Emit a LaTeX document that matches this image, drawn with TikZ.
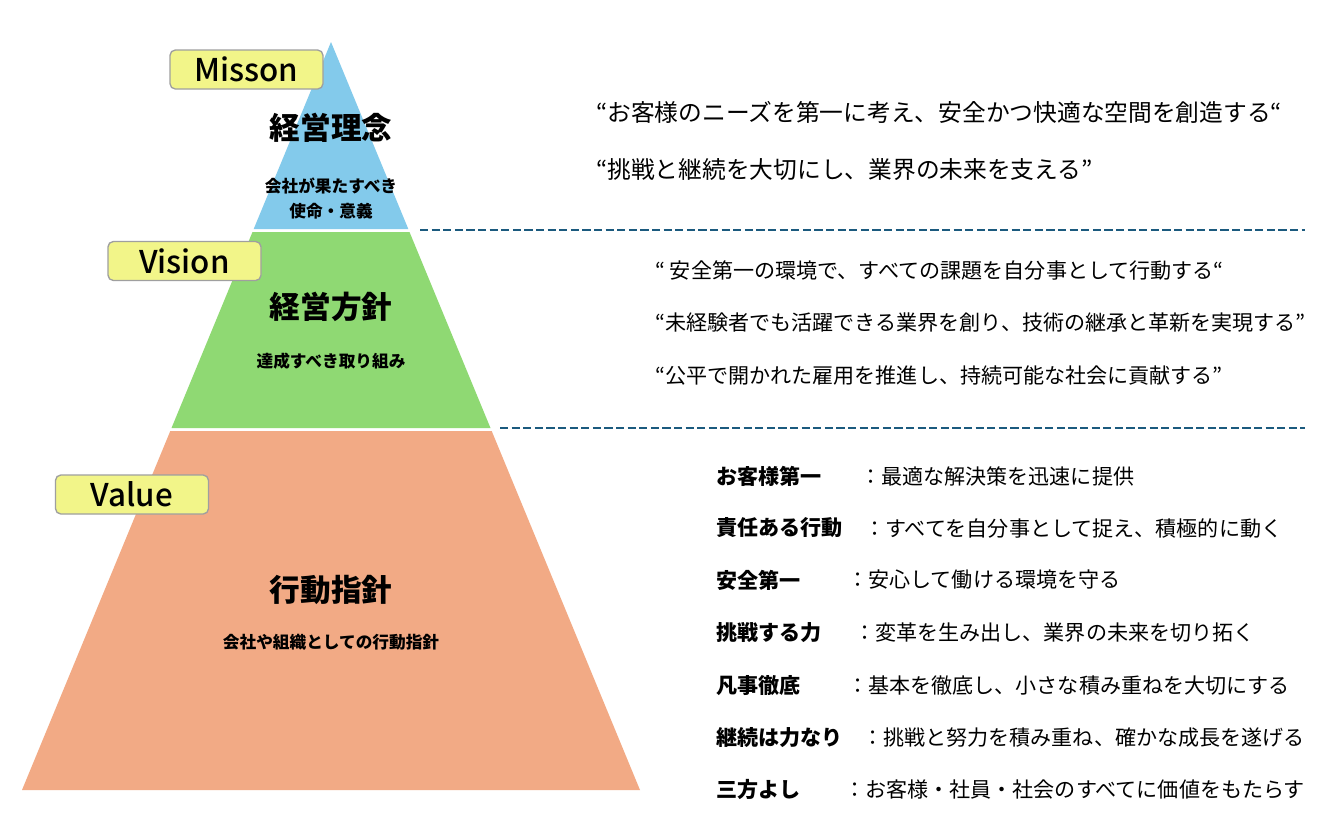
\documentclass[tikz,border=0pt]{standalone}
\usepackage{fontspec}
\setmainfont{Noto Sans CJK JP}
\newfontfamily\tagfont{Noto Sans CJK JP Medium}
\usetikzlibrary{positioning}
\definecolor{tierblue}{HTML}{83CAEB}
\definecolor{tiergreen}{HTML}{8FD973}
\definecolor{tierorange}{HTML}{F2AA85}
\definecolor{tagyellow}{HTML}{F2F589}
\definecolor{septeal}{HTML}{1B5A7E}
\tikzstyle{tag}=[draw=gray!75,fill=tagyellow,rounded corners=4pt,line width=1pt,minimum width=114.75pt,minimum height=29.25pt,font=\tagfont\fontsize{23.5}{25}\selectfont]
\tikzstyle{tiertitle}=[font=\bfseries\fontsize{23}{26}\selectfont]
\tikzstyle{tiersub}=[font=\bfseries\fontsize{12.5}{18.75}\selectfont,align=center]

\begin{document}
\begin{tikzpicture}[x=0.75pt,y=-0.75pt]
\tikzstyle{quote}=[anchor=west,inner sep=0pt,font=\fontsize{17.8}{20}\selectfont]
\tikzstyle{vquote}=[anchor=west,inner sep=0pt,font=\fontsize{15.8}{18}\selectfont]
\tikzstyle{valuekey}=[anchor=west,inner sep=0pt,font=\bfseries\fontsize{15.8}{18}\selectfont]
\tikzstyle{valuetext}=[anchor=west,inner sep=0pt,font=\fontsize{15.8}{18}\selectfont]
\tikzstyle{sep}=[septeal,line width=2pt,dash pattern=on 6.2pt off 2.5pt]
\useasboundingbox[fill=white] (0,0) rectangle (1336,819);

% pyramid
\fill[tierblue] (331,42) -- (408.3,229) -- (253.7,229) -- cycle;
\fill[tiergreen] (252.5,232) -- (409.5,232) -- (490.5,428) -- (171.5,428) -- cycle;
\fill[tierorange] (170.3,431) -- (491.7,431) -- (640,790) -- (22,790) -- cycle;

\node (M) [tag] at (246.5,69.5) {Misson};
\node (V) [tag] at (184.5,261) {Vision};
\node (L) [tag] at (132,494.5) {Value};

\node (mt) [tiertitle] at (331,128) {経営理念};
\node (ms) [tiersub] at (331,198.5) {会社が果たすべき\\使命・意義};
\node (vt) [tiertitle] at (331,307) {経営方針};
\node (vs) [tiersub] at (331,361) {達成すべき取り組み};
\node (lt) [tiertitle] at (331,590) {行動指針};
\node (ls) [tiersub] at (331,642) {会社や組織としての行動指針};

% separators
\draw[sep] (420,230) -- (1305,230);
\draw[sep] (500,428) -- (1305,428);

% mission
\node (m1) [quote] at (596,112) {“お客様のニーズを第一に考え、安全かつ快適な空間を創造する“};
\node (m2) [quote] at (596,170) {“挑戦と継続を大切にし、業界の未来を支える”};

% vision
\node (v1) [vquote] at (655,270) {“ 安全第一の環境で、すべての課題を自分事として行動する“};
\node (v2) [vquote] at (655,323) {“未経験者でも活躍できる業界を創り、技術の継承と革新を実現する”};
\node (v3) [vquote] at (655,376) {“公平で開かれた雇用を推進し、持続可能な社会に貢献する”};

% value
\node (k1) [valuekey] at (716,476) {お客様第一};
\node (t1) [valuetext] at (860,476) {：最適な解決策を迅速に提供};
\node (k2) [valuekey] at (716,528) {責任ある行動};
\node (t2) [valuetext] at (864,528) {：すべてを自分事として捉え、積極的に動く};
\node (k3) [valuekey] at (716,580) {安全第一};
\node (t3) [valuetext] at (847,580) {：安心して働ける環境を守る};
\node (k4) [valuekey] at (716,633) {挑戦する力};
\node (t4) [valuetext] at (854,633) {：変革を生み出し、業界の未来を切り拓く};
\node (k5) [valuekey] at (716,686) {凡事徹底};
\node (t5) [valuetext] at (847,686) {：基本を徹底し、小さな積み重ねを大切にする};
\node (k6) [valuekey] at (716,738) {継続は力なり};
\node (t6) [valuetext] at (862,738) {：挑戦と努力を積み重ね、確かな成長を遂げる};
\node (k7) [valuekey] at (716,790) {三方よし};
\node (t7) [valuetext] at (844,790) {：お客様・社員・社会のすべてに価値をもたらす};
\end{tikzpicture}
\end{document}
